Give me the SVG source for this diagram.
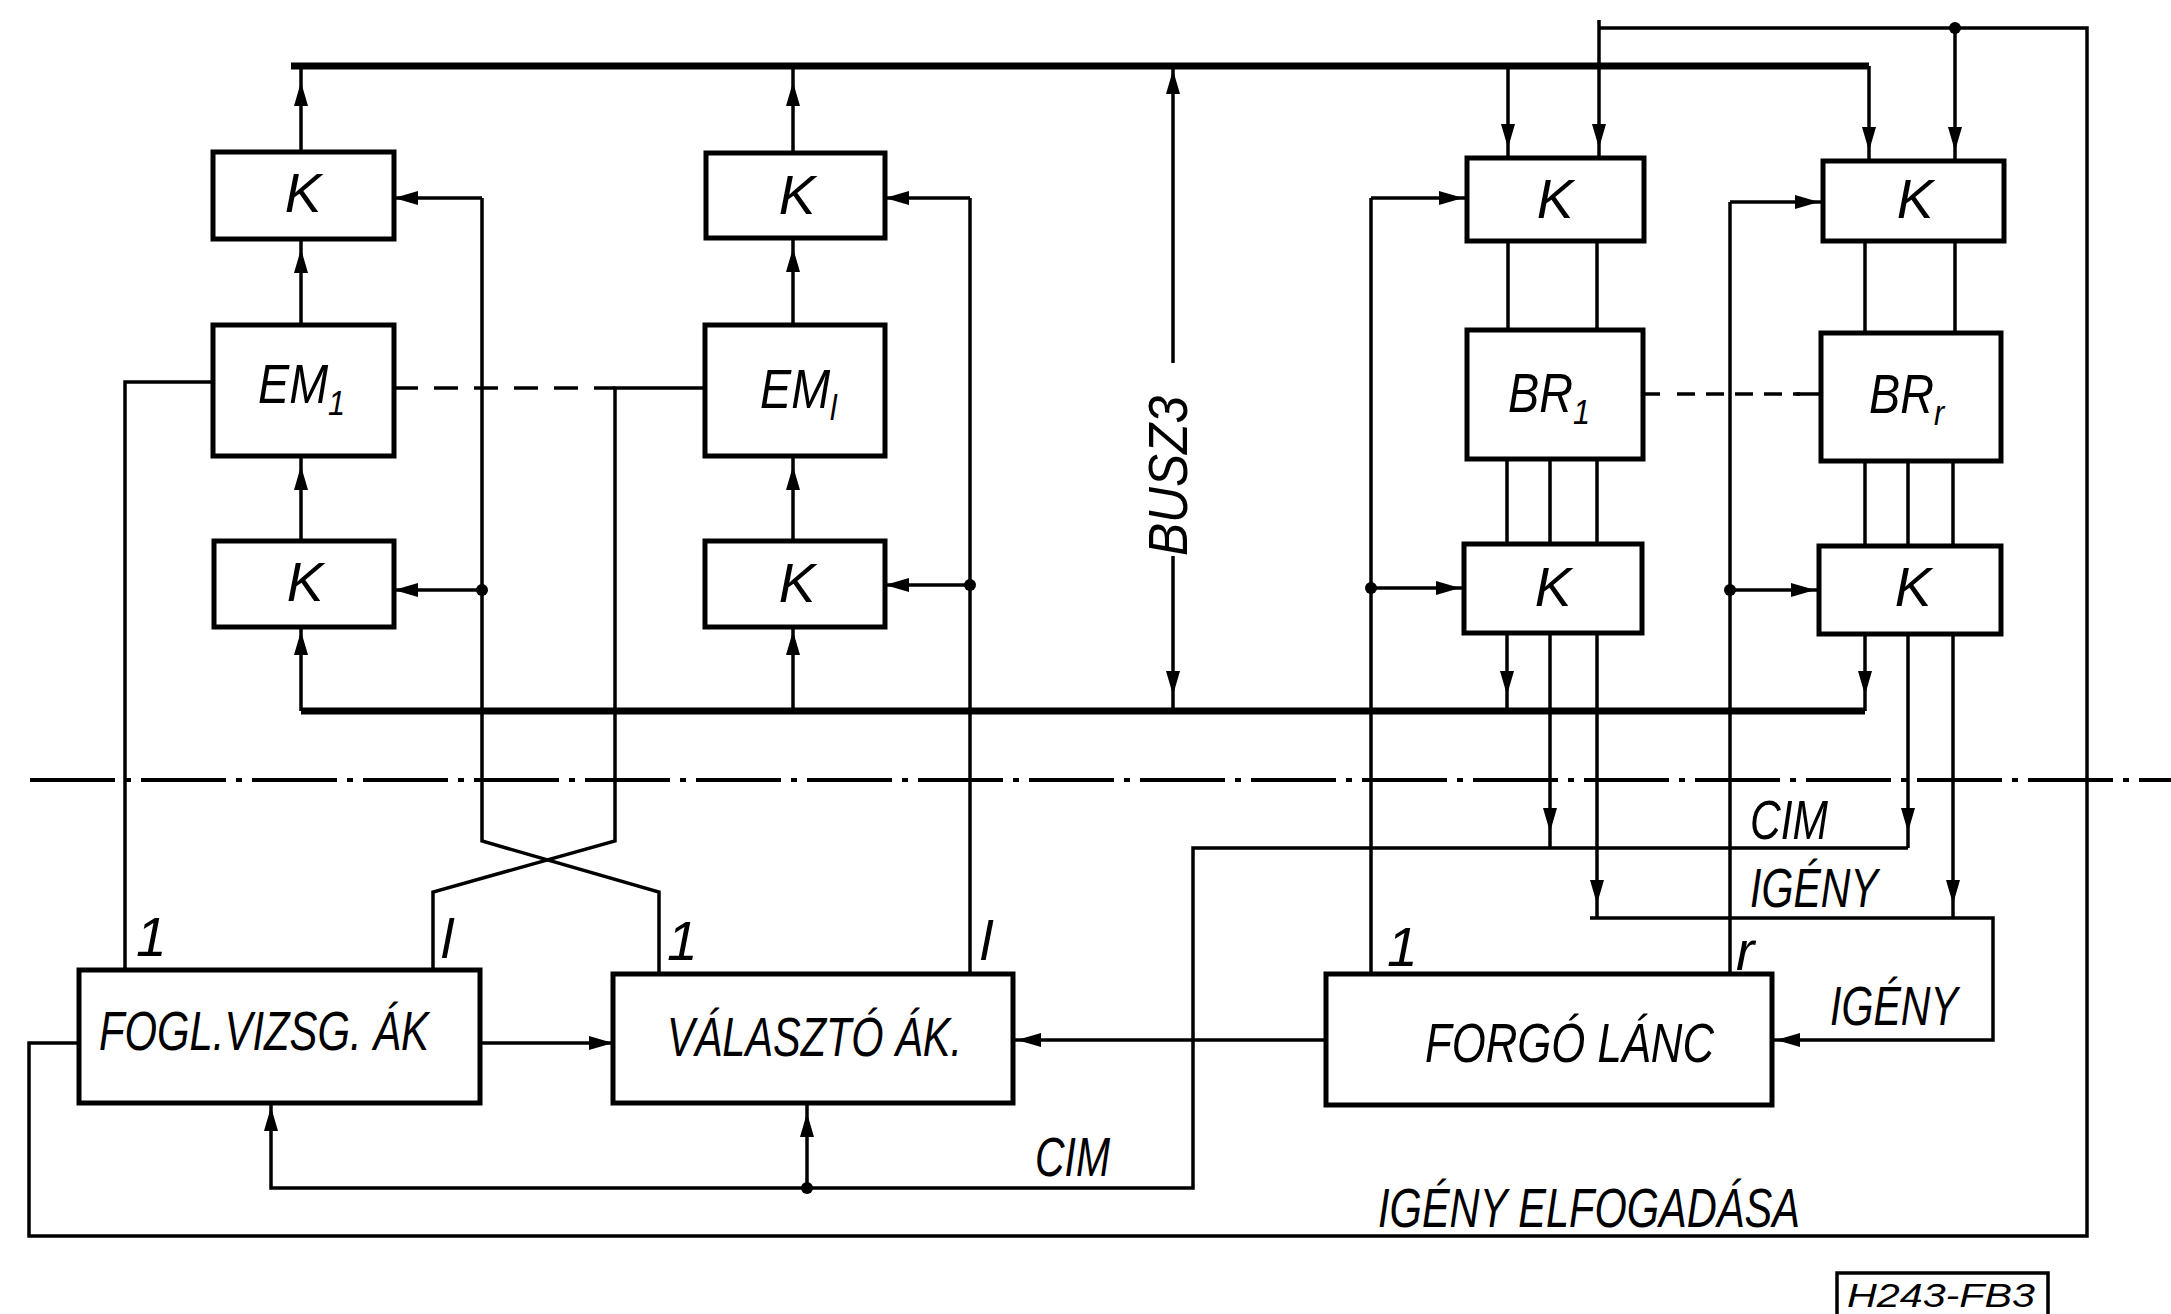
<svg xmlns="http://www.w3.org/2000/svg" width="2171" height="1314" viewBox="0 0 2171 1314">
<style>
.box{fill:#fff;stroke:#000;stroke-width:5}
.ln{fill:none;stroke:#000;stroke-width:3.5}
.bus{fill:none;stroke:#000;stroke-width:7}
.dash{fill:none;stroke:#000;stroke-width:3.5;stroke-dasharray:24 16}
.dd{fill:none;stroke:#000;stroke-width:4;stroke-dasharray:85 10 6 10}
.t{font-family:"Liberation Sans",Arial,sans-serif;font-style:italic;font-size:55px;fill:#000}
.c{text-anchor:middle}
.dot{fill:#000}
</style>
<defs>
<marker id="a0" markerUnits="userSpaceOnUse" markerWidth="60" markerHeight="20" refX="24" refY="7" orient="auto" overflow="visible"><path d="M0,0 L24,7 L0,14 z"/></marker>
<marker id="a4" markerUnits="userSpaceOnUse" markerWidth="60" markerHeight="20" refX="28" refY="7" orient="auto" overflow="visible"><path d="M0,0 L24,7 L0,14 z"/></marker>
<marker id="a10" markerUnits="userSpaceOnUse" markerWidth="60" markerHeight="20" refX="34" refY="7" orient="auto" overflow="visible"><path d="M0,0 L24,7 L0,14 z"/></marker>
<marker id="a14" markerUnits="userSpaceOnUse" markerWidth="60" markerHeight="20" refX="38" refY="7" orient="auto" overflow="visible"><path d="M0,0 L24,7 L0,14 z"/></marker>
<marker id="a16" markerUnits="userSpaceOnUse" markerWidth="60" markerHeight="20" refX="40" refY="7" orient="auto" overflow="visible"><path d="M0,0 L24,7 L0,14 z"/></marker>
</defs>
<rect width="2171" height="1314" fill="#fff"/>

<g id="connectors">
<path class="dd" d="M30,780 H2171"/>
<path class="bus" d="M291,66 H1869"/>
<path class="bus" d="M301,711 H1865"/>
<path class="ln" d="M301,152 V66" marker-end="url(#a16)"/>
<path class="ln" d="M301,325 V239" marker-end="url(#a10)"/>
<path class="ln" d="M301,541 V456" marker-end="url(#a10)"/>
<path class="ln" d="M301,711 V627" marker-end="url(#a4)"/>
<path class="ln" d="M793,153 V66" marker-end="url(#a16)"/>
<path class="ln" d="M793,325 V238" marker-end="url(#a10)"/>
<path class="ln" d="M793,541 V456" marker-end="url(#a10)"/>
<path class="ln" d="M793,711 V627" marker-end="url(#a4)"/>
<path class="ln" d="M482,198 H394" marker-end="url(#a0)"/>
<path class="ln" d="M482,198 V841 L659,892 V974"/>
<path class="ln" d="M482,590 H394" marker-end="url(#a0)"/>
<path class="ln" d="M970,198 H885" marker-end="url(#a0)"/>
<path class="ln" d="M970,198 V974"/>
<path class="ln" d="M970,585 H885" marker-end="url(#a0)"/>
<path class="ln" d="M213,382 H125 V970"/>
<path class="dash" d="M394,388 H615"/>
<path class="ln" d="M705,388 H615 V841 L433,892 V970"/>
<path class="ln" d="M1173,363 V66" marker-end="url(#a4)"/>
<path class="ln" d="M1173,556 V711" marker-end="url(#a16)"/>
<path class="ln" d="M1508,66 V158" marker-end="url(#a10)"/>
<path class="ln" d="M1599,20 V158" marker-end="url(#a10)"/>
<path class="ln" d="M1869,66 V161" marker-end="url(#a10)"/>
<path class="ln" d="M1955,28 V161" marker-end="url(#a10)"/>
<path class="ln" d="M79,1043 H29 V1236 H2087 V28 H1599"/>
<path class="ln" d="M1508,241 V330 M1597,241 V330 M1865,241 V333 M1955,241 V333"/>
<path class="ln" d="M1507,459 V544 M1550,459 V544 M1597,459 V544 M1865,461 V546 M1908,461 V546 M1953,461 V546"/>
<path class="ln" d="M1507,633 V711" marker-end="url(#a16)"/>
<path class="ln" d="M1550,633 V848" marker-end="url(#a16)"/>
<path class="ln" d="M1597,633 V918" marker-end="url(#a14)"/>
<path class="ln" d="M1865,634 V711" marker-end="url(#a16)"/>
<path class="ln" d="M1908,634 V848" marker-end="url(#a16)"/>
<path class="ln" d="M1953,634 V918" marker-end="url(#a14)"/>
<path class="ln" d="M1908,848 H1193 V1188 H271 V1103" marker-end="url(#a4)"/>
<path class="ln" d="M807,1188 V1103" marker-end="url(#a10)"/>
<path class="ln" d="M1590,918 H1993 V1040 H1772" marker-end="url(#a4)"/>
<path class="ln" d="M1326,1040 H1013" marker-end="url(#a4)"/>
<path class="ln" d="M480,1043 H613" marker-end="url(#a0)"/>
<path class="ln" d="M1371,198 H1467" marker-end="url(#a4)"/>
<path class="ln" d="M1371,198 V974"/>
<path class="ln" d="M1371,588 H1464" marker-end="url(#a4)"/>
<path class="ln" d="M1730,202 H1823" marker-end="url(#a4)"/>
<path class="ln" d="M1730,202 V974"/>
<path class="ln" d="M1730,590 H1819" marker-end="url(#a4)"/>
<path class="ln" d="M1643,394 H1660"/>
<path class="dash" d="M1677,394 H1800" style="stroke-dasharray:18 11"/>
<path class="ln" d="M1796,394 H1821"/>
<circle class="dot" cx="482" cy="590" r="6"/>
<circle class="dot" cx="970" cy="585" r="6"/>
<circle class="dot" cx="1371" cy="588" r="6"/>
<circle class="dot" cx="1730" cy="590" r="6"/>
<circle class="dot" cx="1955" cy="28" r="6"/>
<circle class="dot" cx="807" cy="1188" r="6"/>
<text class="t" transform="translate(1187,476) rotate(-90)" text-anchor="middle" textLength="160" lengthAdjust="spacingAndGlyphs">BUSZ3</text>
<text class="t" x="1035" y="1176" textLength="75" lengthAdjust="spacingAndGlyphs">CIM</text>
<text class="t" x="1750" y="839" textLength="78" lengthAdjust="spacingAndGlyphs">CIM</text>
<text class="t" x="1750" y="907" textLength="128" lengthAdjust="spacingAndGlyphs">IGÉNY</text>
<text class="t" x="1830" y="1025" textLength="128" lengthAdjust="spacingAndGlyphs">IGÉNY</text>
<text class="t" x="1378" y="1227" textLength="422" lengthAdjust="spacingAndGlyphs">IGÉNY ELFOGADÁSA</text>
<text class="t" x="136" y="956">1</text>
<text class="t" x="441" y="958">l</text>
<text class="t" x="667" y="960">1</text>
<text class="t" x="980" y="960">l</text>
<text class="t" x="1387" y="966">1</text>
<text class="t" x="1736" y="970">r</text>
</g>

<g id="K1t"><rect class="box" x="213" y="152" width="181" height="87"/><text class="t c" x="303" y="212">K</text></g>
<g id="EM1"><rect class="box" x="213" y="325" width="181" height="131"/><text class="t" transform="translate(258,403) scale(0.85,1)">EM<tspan font-size="36" dy="12">1</tspan></text></g>
<g id="K1b"><rect class="box" x="214" y="541" width="180" height="86"/><text class="t c" x="305" y="601">K</text></g>
<g id="K2t"><rect class="box" x="706" y="153" width="179" height="85"/><text class="t c" x="797" y="214">K</text></g>
<g id="EMl"><rect class="box" x="705" y="325" width="180" height="131"/><text class="t" transform="translate(760,408) scale(0.85,1)">EM<tspan font-size="36" dy="12">l</tspan></text></g>
<g id="K2b"><rect class="box" x="705" y="541" width="180" height="86"/><text class="t c" x="797" y="602">K</text></g>
<g id="BRK1t"><rect class="box" x="1467" y="158" width="177" height="83"/><text class="t c" x="1555" y="218">K</text></g>
<g id="BR1"><rect class="box" x="1467" y="330" width="176" height="129"/><text class="t" transform="translate(1508,412) scale(0.85,1)">BR<tspan font-size="36" dy="12">1</tspan></text></g>
<g id="BRK1b"><rect class="box" x="1464" y="544" width="178" height="89"/><text class="t c" x="1553" y="606">K</text></g>
<g id="BRKrt"><rect class="box" x="1823" y="161" width="181" height="80"/><text class="t c" x="1915" y="218">K</text></g>
<g id="BRr"><rect class="box" x="1821" y="333" width="180" height="128"/><text class="t" transform="translate(1869,413) scale(0.85,1)">BR<tspan font-size="36" dy="12">r</tspan></text></g>
<g id="BRKrb"><rect class="box" x="1819" y="546" width="182" height="88"/><text class="t c" x="1913" y="606">K</text></g>
<g id="FOGL"><rect class="box" x="79" y="970" width="401" height="133"/><text class="t" x="99" y="1050" textLength="330" lengthAdjust="spacingAndGlyphs">FOGL.VIZSG. ÁK</text></g>
<g id="VALASZTO"><rect class="box" x="613" y="974" width="400" height="129"/><text class="t" x="667" y="1056" textLength="295" lengthAdjust="spacingAndGlyphs">VÁLASZTÓ ÁK.</text></g>
<g id="FORGO"><rect class="box" x="1326" y="974" width="446" height="131"/><text class="t" x="1425" y="1062" textLength="289" lengthAdjust="spacingAndGlyphs">FORGÓ LÁNC</text></g>
<g id="code"><rect x="1837" y="1273" width="211" height="50" fill="none" stroke="#000" stroke-width="3.5"/><text class="t" x="1847" y="1307" font-size="34" style="font-size:34px" textLength="188" lengthAdjust="spacingAndGlyphs">H243-FB3</text></g>
</svg>
